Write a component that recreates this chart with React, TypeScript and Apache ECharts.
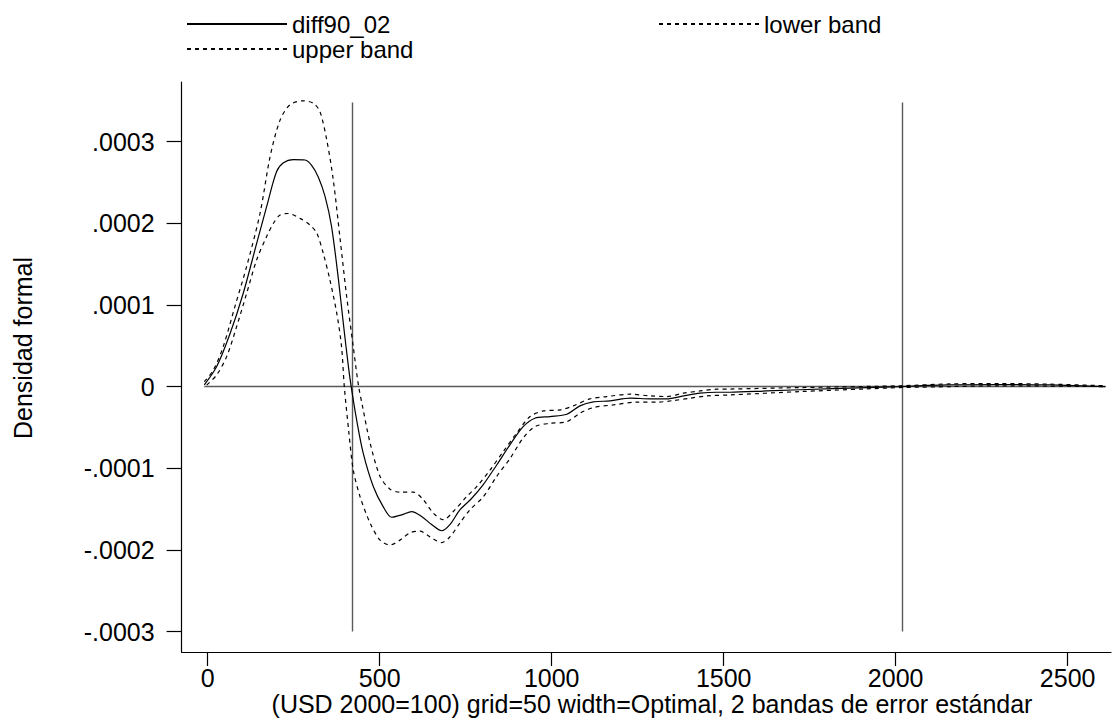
import React, { useEffect, useRef } from "react";
import * as echarts from "echarts";

// values in units of 1e-6 (density)
const UNIT = 1e-6;

const diffX = [-10, 26, 65, 103, 142, 171, 200, 220, 249, 283, 302, 321, 341, 360, 380, 394, 409, 417, 433, 452, 481, 510, 535, 564, 593, 622, 651, 680, 704, 733, 767, 801, 840, 879, 917, 951, 995, 1044, 1082, 1121, 1170, 1228, 1286, 1334, 1383, 1431, 1480, 1518, 1625, 1817, 2013, 2150, 2300, 2450, 2610];
const diffY = [2, 24.5, 65, 114, 175, 220, 263, 274, 278, 277.5, 271, 257, 233, 196, 131, 78, 24.5, 0, -41, -81.5, -122, -147, -160, -157, -153, -159, -169, -176.5, -169, -151, -137, -120, -96, -71, -49, -38.7, -36.7, -33.8, -23.6, -18.7, -17.5, -14.2, -15, -15, -11.4, -8.1, -6.9, -6.9, -5.3, -2.5, 0, 2, 2.5, 2, 0];

const upperX = [-10, 16, 45, 79, 113, 152, 181, 210, 239, 278, 307, 326, 346, 365, 385, 404, 423, 438, 452, 472, 501, 530, 559, 598, 627, 656, 685, 714, 753, 782, 821, 859, 898, 937, 976, 1024, 1063, 1111, 1160, 1228, 1286, 1334, 1383, 1431, 1480, 1518, 1722, 2013, 2158, 2303, 2449, 2610];
const upperY = [6, 20, 49, 98, 147, 212, 281, 326, 345, 350, 347, 337, 302, 253, 180, 110, 49, 2, -28.5, -69, -110, -125.6, -129.3, -129.3, -138.7, -155, -163, -153, -134.6, -122.4, -102, -79.6, -57, -36.7, -29.7, -28.5, -23.6, -15, -12.2, -9.3, -11.4, -12.2, -8.1, -5.3, -3.2, -3, -1.2, 1, 3.3, 3.7, 3, 1];

const lowerX = [-3, 26, 55, 84, 113, 142, 171, 191, 210, 234, 268, 297, 317, 336, 355, 375, 389, 397, 410, 423, 443, 472, 501, 530, 559, 588, 617, 646, 680, 704, 733, 762, 801, 840, 879, 917, 951, 995, 1044, 1082, 1121, 1179, 1247, 1305, 1353, 1402, 1451, 1518, 1722, 1916, 2013, 2158, 2303, 2610];
const lowerY = [2, 14.3, 36.7, 73.4, 114, 155, 183.6, 200, 210, 212, 206, 198, 188, 163, 131, 90, 49, 0, -55, -102, -135, -167, -188, -194, -188, -179, -177, -184, -191, -184, -167, -151, -135, -110, -88, -63, -49, -45, -43, -32.6, -25.7, -22.4, -19.1, -19.1, -17.1, -14.2, -11.4, -10.2, -6.1, -2.8, -1.2, 0, 1, 0];

const xTicks = [0, 500, 1000, 1500, 2000, 2500];
const yTicks = [-0.0003, -0.0002, -0.0001, 0, 0.0001, 0.0002, 0.0003];
const refLinesX = [419, 2020];
const refLineYRange = [-0.0003, 0.000348];
const zeroLineXRange = [-10, 2610];

const FONT = "'Liberation Sans', Arial, Helvetica, sans-serif";

const zip = (xs: number[], ys: number[]) => xs.map((x, i) => [x, ys[i] * UNIT]);

const fmtY = (v: number) => {
  const r = Math.round(v * 1e4);
  if (r === 0) return "0";
  return (r < 0 ? "-" : "") + ".000" + Math.abs(r);
};

export default function App() {
  const ref = useRef<HTMLDivElement>(null);
  useEffect(() => {
    if (!ref.current) return;
    const chart = echarts.init(ref.current, undefined, { renderer: "svg" });
    const refStyle = { color: "#5a5a5a", width: 1.4, type: "solid" as const };
    const markData: any[] = refLinesX.map((x) => [
      { coord: [x, refLineYRange[0]] },
      { coord: [x, refLineYRange[1]] },
    ]);
    markData.push([
      { coord: [zeroLineXRange[0], 0] },
      { coord: [zeroLineXRange[1], 0] },
    ]);
    const legendCommon = {
      orient: "vertical",
      top: 7,
      itemWidth: 100,
      itemHeight: 14,
      itemGap: 1,
      selectedMode: false,
      itemStyle: { opacity: 0 },
      textStyle: { fontSize: 24, color: "#000", fontFamily: FONT, lineHeight: 24 },
    };
    chart.setOption({
      animation: false,
      backgroundColor: "#fff",
      textStyle: { fontFamily: FONT },
      grid: { left: 181.6, right: 3, top: 82, bottom: 66, containLabel: false },
      legend: [
        { ...legendCommon, data: ["diff90_02", "upper band"], left: 181 },
        { ...legendCommon, data: ["lower band"], left: 653 },
      ],
      xAxis: {
        type: "value",
        min: -76,
        max: 2626,
        axisLine: { onZero: false, lineStyle: { color: "#000", width: 1.2 } },
        axisTick: { show: true, length: 14, customValues: xTicks, lineStyle: { color: "#000", width: 1.2 } },
        axisLabel: {
          customValues: xTicks,
          fontSize: 25,
          color: "#000",
          margin: 13,
          fontFamily: FONT,
          formatter: (v: number) => String(v),
        },
        splitLine: { show: false },
      },
      yAxis: {
        type: "value",
        min: -0.000325,
        max: 0.000373,
        axisLine: { show: true, onZero: false, lineStyle: { color: "#000", width: 1.2 } },
        axisTick: { show: true, length: 15, customValues: yTicks, lineStyle: { color: "#000", width: 1.2 } },
        axisLabel: { customValues: yTicks, fontSize: 25, color: "#000", margin: 27, fontFamily: FONT, formatter: fmtY },
        splitLine: { show: false },
      },
      graphic: [
        {
          type: "text",
          x: 23,
          y: 348,
          rotation: Math.PI / 2,
          style: { text: "Densidad formal", fill: "#000", font: `25px ${FONT}`, textAlign: "center", textVerticalAlign: "middle" },
        },
        {
          type: "text",
          x: 652,
          y: 704,
          style: {
            text: "(USD 2000=100) grid=50 width=Optimal, 2 bandas de error estándar",
            fill: "#000",
            font: `25px ${FONT}`,
            textAlign: "center",
            textVerticalAlign: "middle",
          },
        },
      ],
      series: [
        {
          name: "diff90_02",
          type: "line",
          data: zip(diffX, diffY),
          symbol: "none",
          smooth: 0.3,
          lineStyle: { color: "#000", width: 1.2, type: "solid" },
          itemStyle: { color: "#000" },
          z: 3,
          markLine: {
            silent: true,
            symbol: ["none", "none"],
            label: { show: false },
            lineStyle: refStyle,
            data: markData,
            z: 2,
          },
        },
        {
          name: "upper band",
          type: "line",
          data: zip(upperX, upperY),
          symbol: "none",
          smooth: 0.3,
          lineStyle: { color: "#000", width: 1.2, type: [4, 4] },
          itemStyle: { color: "#000" },
          z: 3,
        },
        {
          name: "lower band",
          type: "line",
          data: zip(lowerX, lowerY),
          symbol: "none",
          smooth: 0.3,
          lineStyle: { color: "#000", width: 1.2, type: [4, 4] },
          itemStyle: { color: "#000" },
          z: 3,
        },
      ],
    });
    return () => chart.dispose();
  }, []);
  return (
    <div
      ref={ref}
      style={{ position: "fixed", left: 0, top: 0, width: 1114, height: 718, background: "#fff" }}
    />
  );
}
